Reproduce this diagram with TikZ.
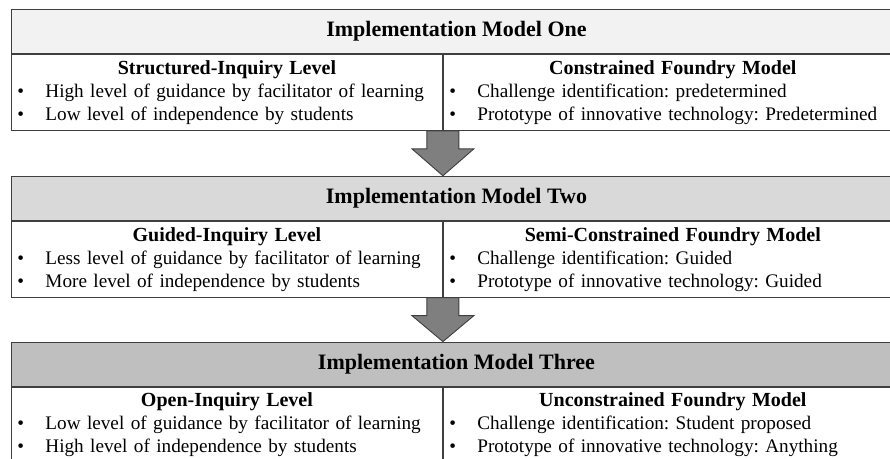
\documentclass[tikz,border=0pt]{standalone}
\usepackage{fontspec}
\setmainfont{Liberation Serif}
\usepackage{xcolor}
\usepackage{tikz}
\usetikzlibrary{positioning, calc}

\definecolor{edge}{HTML}{3F3F3F}
\definecolor{tone1}{HTML}{F2F2F2}
\definecolor{tone2}{HTML}{D9D9D9}
\definecolor{tone3}{HTML}{BFBFBF}
\definecolor{arrowgray}{HTML}{7F7F7F}

% bold title over two bulleted lines
\newcommand{\cellbody}[3]{{\centering\fontsize{20}{23}\selectfont\bfseries #1\par}%
  \hspace*{6pt}\makebox[28pt][l]{\textbullet}#2\par
  \hspace*{6pt}\makebox[28pt][l]{\textbullet}#3}

% block arrow from the divider of one stage down to the next header
\newcommand{\stepdown}[2]{%
  \draw [blockarrow] ($(#1.south east)+(-16,0)$) -- ++(0,18) -- ++(-15,0)
    -- (#2.north -| #1.east) -- ($(#1.south east)+(31,18)$) -- ++(-15,0)
    -- ($(#1.south east)+(16,0)$) -- cycle;}

\begin{document}
\frenchspacing
\begin{tikzpicture}[x=1pt, y=-1pt]
\tikzstyle{hdr} = [rectangle, draw=edge, line width=0.9pt, minimum width=890pt, minimum height=44pt, inner sep=0pt, font=\fontsize{22}{26}\selectfont\bfseries]
\tikzstyle{cell} = [rectangle, draw=edge, line width=0.9pt, minimum height=76pt, inner sep=0pt, align=left, font=\fontsize{19.2}{23}\selectfont]
\tikzstyle{blockarrow} = [draw=edge, line width=0.9pt, fill=arrowgray, line join=miter]

\useasboundingbox (0,0) rectangle (890,458);

\node (hdr1) [hdr, fill=tone1, anchor=north west] at (11,9) {Implementation Model One};
\node (lvl1) [cell, text width=431pt, below right=0pt and 0pt of hdr1.south west] {\cellbody{Structured-Inquiry Level}{High level of guidance by facilitator of learning}{Low level of independence by students}};
\node (fdy1) [cell, text width=459pt, right=0pt of lvl1] {\cellbody{Constrained Foundry Model}{Challenge identification: predetermined}{Prototype of innovative technology: Predetermined}};

\node (hdr2) [hdr, fill=tone2, below right=45pt and 0pt of lvl1.south west] {Implementation Model Two};
\node (lvl2) [cell, text width=431pt, below right=0pt and 0pt of hdr2.south west] {\cellbody{Guided-Inquiry Level}{Less level of guidance by facilitator of learning}{More level of independence by students}};
\node (fdy2) [cell, text width=459pt, right=0pt of lvl2] {\cellbody{Semi-Constrained Foundry Model}{Challenge identification: Guided}{Prototype of innovative technology: Guided}};

\node (hdr3) [hdr, fill=tone3, below right=44pt and 0pt of lvl2.south west] {Implementation Model Three};
\node (lvl3) [cell, text width=431pt, below right=0pt and 0pt of hdr3.south west] {\cellbody{Open-Inquiry Level}{Low level of guidance by facilitator of learning}{High level of independence by students}};
\node (fdy3) [cell, text width=459pt, right=0pt of lvl3] {\cellbody{Unconstrained Foundry Model}{Challenge identification: Student proposed}{Prototype of innovative technology: Anything}};

\stepdown{lvl1}{hdr2}
\stepdown{lvl2}{hdr3}
\end{tikzpicture}
\end{document}
